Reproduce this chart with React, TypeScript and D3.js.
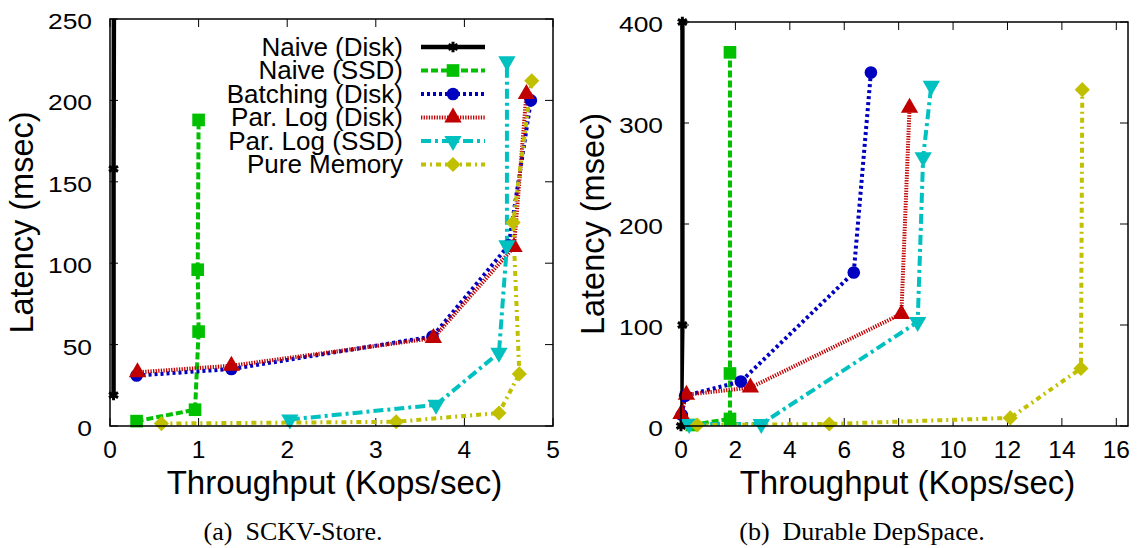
import React from 'react'
import * as d3 from 'd3'

type Pt = [number, number]

const seriesNames = ['Naive (Disk)', 'Naive (SSD)', 'Batching (Disk)', 'Par. Log (Disk)', 'Par. Log (SSD)', 'Pure Memory']

// (a) SCKV-Store: [throughput Kops/sec, latency msec]
const sckvNaiveDisk: Pt[] = [[0.04, 19], [0.04, 158], [0.05, 400]]
const sckvNaiveSsd: Pt[] = [[0.3, 3], [0.96, 10], [1.0, 58], [0.99, 96], [1.0, 188]]
const sckvBatching: Pt[] = [[0.3, 31], [1.37, 35], [3.64, 55], [4.5, 111], [4.75, 200]]
const sckvParLogDisk: Pt[] = [[0.31, 33], [1.37, 37], [3.65, 54], [4.56, 110], [4.7, 204]]
const sckvParLogSsd: Pt[] = [[2.03, 4], [3.68, 13], [4.39, 45], [4.48, 111], [4.48, 224]]
const sckvPureMemory: Pt[] = [[0.58, 1.5], [3.23, 2.6], [4.39, 8], [4.62, 32], [4.55, 125], [4.76, 212]]

// (b) Durable DepSpace
const dsNaiveDisk: Pt[] = [[0, 0], [0.05, 100], [0.05, 400]]
const dsNaiveSsd: Pt[] = [[0.4, 1], [1.8, 7], [1.8, 52], [1.8, 370]]
const dsBatching: Pt[] = [[0.03, 11], [0.15, 30], [2.2, 44], [6.35, 152], [6.98, 350]]
const dsParLogDisk: Pt[] = [[0, 12], [0.2, 31], [2.55, 38], [8.1, 111], [8.4, 315]]
const dsParLogSsd: Pt[] = [[0.3, 2], [2.95, 2], [8.7, 103], [8.9, 266], [9.2, 337]]
const dsPureMemory: Pt[] = [[0.6, 1], [5.45, 2], [12.1, 8], [14.7, 57], [14.75, 333]]

const sckvXTicks = [0, 1, 2, 3, 4, 5]
const sckvYTicks = [0, 50, 100, 150, 200, 250]
const dsXTicks = [0, 2, 4, 6, 8, 10, 12, 14, 16]
const dsYTicks = [0, 100, 200, 300, 400]

const colors = ['#000000', '#00c000', '#0000c0', '#c00000', '#00c0c0', '#c0c000']
const dashes = ['none', '7,3', '3,3', '1.3,1.3', '10,4,3,4', '5,4,2,4']
const markers = ['star', 'square', 'circle', 'triangle', 'triangleDown', 'diamond']

const SANS = '"Liberation Sans", Arial, Helvetica, sans-serif'
const SERIF = '"Liberation Serif", "Times New Roman", serif'

function Marker ({ kind, x, y, color }: { kind: string, x: number, y: number, color: string }) {
  const at = `translate(${x},${y})`
  if (kind === 'star') {
    return <path d={d3.symbol(d3.symbolAsterisk, 75)()!} transform={at} stroke={color} strokeWidth={3} fill='none' />
  }
  if (kind === 'square') return <path d={d3.symbol(d3.symbolSquare, 160)()!} transform={at} fill={color} />
  if (kind === 'circle') return <path d={d3.symbol(d3.symbolCircle, 125)()!} transform={at} fill={color} />
  if (kind === 'triangle') return <path d={d3.symbol(d3.symbolTriangle, 130)()!} transform={at} fill={color} />
  if (kind === 'triangleDown') return <path d={d3.symbol(d3.symbolTriangle, 130)()!} transform={at + ' rotate(180)'} fill={color} />
  return <path d={d3.symbol(d3.symbolSquare, 115)()!} transform={at + ' rotate(45)'} fill={color} />
}

interface PanelProps {
  id: string
  series: Pt[][]
  xDomain: [number, number]
  yDomain: [number, number]
  xTicks: number[]
  yTicks: number[]
  box: { left: number, right: number, top: number, bottom: number }
  caption: string
  captionX: number
  legend?: boolean
}

function Panel ({ id, series, xDomain, yDomain, xTicks, yTicks, box, caption, captionX, legend }: PanelProps) {
  const x = d3.scaleLinear().domain(xDomain).range([box.left, box.right])
  const y = d3.scaleLinear().domain(yDomain).range([box.bottom, box.top])
  const line = d3.line<Pt>().x(d => x(d[0])).y(d => y(d[1]))
  const tick = 8
  const midY = (box.top + box.bottom) / 2
  const midX = (box.left + box.right) / 2

  return (
    <g>
      <defs>
        <clipPath id={id}>
          <rect x={box.left} y={box.top} width={box.right - box.left} height={box.bottom - box.top} />
        </clipPath>
      </defs>
      {xTicks.map(t => (
        <g key={'x' + t}>
          <line x1={x(t)} x2={x(t)} y1={box.bottom} y2={box.bottom - tick} stroke='#000' />
          <line x1={x(t)} x2={x(t)} y1={box.top} y2={box.top + tick} stroke='#000' />
          <text x={x(t)} y={box.bottom + 32} textAnchor='middle' fontFamily={SANS} fontSize={24.5}>{t}</text>
        </g>
      ))}
      {yTicks.map(t => (
        <g key={'y' + t}>
          <line x1={box.left} x2={box.left + tick} y1={y(t)} y2={y(t)} stroke='#000' />
          <line x1={box.right} x2={box.right - tick} y1={y(t)} y2={y(t)} stroke='#000' />
          <text transform={`translate(${box.left - 18},${y(t) + 10}) scale(1.2,1)`} textAnchor='end'
            fontFamily={SANS} fontSize={22}>{t}</text>
        </g>
      ))}
      <g clipPath={`url(#${id})`}>
        {series.map((s, i) => (
          <path key={i} d={line(s)!} fill='none' stroke={colors[i]} strokeWidth={i === 0 ? 4.5 : 4}
            strokeDasharray={dashes[i]} />
        ))}
      </g>
      {series.map((s, i) => s.filter(d => d[1] <= yDomain[1]).map((d, j) => (
        <Marker key={i + '-' + j} kind={markers[i]} x={x(d[0])} y={y(d[1])} color={colors[i]} />
      )))}
      <rect x={box.left} y={box.top} width={box.right - box.left} height={box.bottom - box.top} fill='none' stroke='#000' strokeWidth={1.5} />
      {legend && seriesNames.map((name, i) => {
        const ly = 47 + i * 23.5
        return (
          <g key={name}>
            <text x={403} y={ly + 8.5} textAnchor='end' fontFamily={SANS} fontSize={26}>{name}</text>
            <line x1={421} x2={485} y1={ly} y2={ly} stroke={colors[i]} strokeWidth={i === 0 ? 4.5 : 4} strokeDasharray={dashes[i]} />
            <Marker kind={markers[i]} x={453} y={ly} color={colors[i]} />
          </g>
        )
      })}
      <text x={midX + 3} y={box.bottom + 68} textAnchor='middle' fontFamily={SANS} fontSize={33}>Throughput (Kops/sec)</text>
      <text transform={`translate(${box.left - 77},${midY}) rotate(-90)`} textAnchor='middle' fontFamily={SANS} fontSize={32.5}>Latency (msec)</text>
      <text x={captionX} y={540} textAnchor='middle' fontFamily={SERIF} fontSize={26}>{caption}</text>
    </g>
  )
}

export default function App () {
  return (
    <svg width={1142} height={548} style={{ position: 'absolute', left: 0, top: 0, background: '#fff' }}>
      <Panel id='clipA'
        series={[sckvNaiveDisk, sckvNaiveSsd, sckvBatching, sckvParLogDisk, sckvParLogSsd, sckvPureMemory]}
        xDomain={[0, 5]} yDomain={[0, 250]} xTicks={sckvXTicks} yTicks={sckvYTicks}
        box={{ left: 110, right: 553, top: 19, bottom: 426 }}
        caption={'(a)\u2002SCKV-Store.'} captionX={293} legend />
      <Panel id='clipB'
        series={[dsNaiveDisk, dsNaiveSsd, dsBatching, dsParLogDisk, dsParLogSsd, dsPureMemory]}
        xDomain={[0, 16.43]} yDomain={[0, 400]} xTicks={dsXTicks} yTicks={dsYTicks}
        box={{ left: 681, right: 1128, top: 22, bottom: 426 }}
        caption={'(b)\u2002Durable DepSpace.'} captionX={862} />
    </svg>
  )
}
